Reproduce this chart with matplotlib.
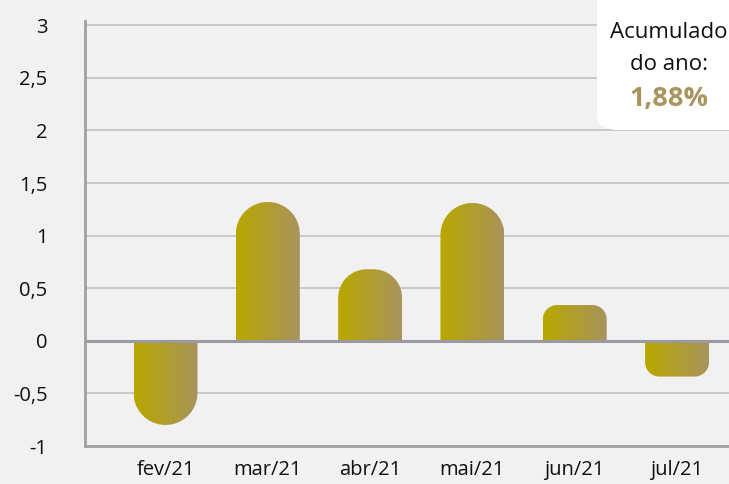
import numpy as np
import matplotlib.pyplot as plt
from matplotlib.path import Path
from matplotlib.patches import PathPatch, FancyBboxPatch
from matplotlib.colors import LinearSegmentedColormap

# dados
meses = ["fev/21", "mar/21", "abr/21", "mai/21", "jun/21", "jul/21"]
valores = [-0.80, 1.32, 0.68, 1.31, 0.34, -0.34]
yticks = [-1, -0.5, 0, 0.5, 1, 1.5, 2, 2.5, 3]
ytick_labels = ["-1", "-0,5", "0", "0,5", "1", "1,5", "2", "2,5", "3"]
acumulado = "1,88%"

plt.rcParams['font.family'] = ['Open Sans', 'DejaVu Sans']

W, H = 729, 484
fig = plt.figure(figsize=(W / 100, H / 100), dpi=100)
fig.patch.set_facecolor("#f1f1f1")

# eixo: esquerda em x=85px, vai ate a borda direita
ax = fig.add_axes([85 / W, (H - 446) / H, (W - 85) / W, (446 - 21) / H])
ax.set_facecolor("#f1f1f1")
xlim = (-0.787, 5.508)
ylim = (-1, 3.04)
ax.set_xlim(*xlim)
ax.set_ylim(*ylim)

# pixels por unidade
px_x = (W - 85) / (xlim[1] - xlim[0])
px_y = (446 - 21) / (ylim[1] - ylim[0])

cmap = LinearSegmentedColormap.from_list("ouro", ["#b9a700", "#a8945c"])
grad = np.linspace(0, 1, 256).reshape(1, -1)

largura = 0.625

def barra_arredondada(xc, v):
    # caminho da barra com ponta arredondada (circular em pixels)
    w_px = largura * px_x
    h_px = abs(v) * px_y
    r = min(w_px / 2, 0.4 * h_px)
    rx, ry = r / px_x, r / px_y
    x0, x1 = xc - largura / 2, xc + largura / 2
    s = 1 if v >= 0 else -1
    pts = [(x0, 0), (x0, v - s * ry)]
    t = np.linspace(np.pi, np.pi / 2, 20)
    pts += [(x0 + rx + rx * np.cos(a), v - s * ry + s * ry * np.sin(a)) for a in t]
    pts += [(x1 - rx, v)]
    t = np.linspace(np.pi / 2, 0, 20)
    pts += [(x1 - rx + rx * np.cos(a), v - s * ry + s * ry * np.sin(a)) for a in t]
    pts += [(x1, 0), (x0, 0)]
    return Path(pts, closed=True), (x0, x1, min(0, v), max(0, v))

# grade
for yt in yticks[1:]:
    ax.axhline(yt, color="#bdbdbd", lw=1.1, zorder=1)
ax.axhline(0, color="#9a9aa0", lw=2.2, zorder=3)

for i, v in enumerate(valores):
    path, (x0, x1, y0, y1) = barra_arredondada(i, v)
    patch = PathPatch(path, facecolor="none", edgecolor="none")
    ax.add_patch(patch)
    im = ax.imshow(grad, cmap=cmap, extent=(x0, x1, y0, y1), aspect="auto",
                   origin="lower", zorder=2)
    im.set_clip_path(patch)

ax.set_xlim(*xlim)
ax.set_ylim(*ylim)

ax.set_xticks(range(len(meses)))
ax.set_xticklabels(meses, fontsize=14.5, color="#111111")
ax.set_yticks(yticks)
ax.set_yticklabels(ytick_labels, fontsize=14.5, color="#111111")
ax.tick_params(axis="both", length=0)
ax.tick_params(axis="y", pad=27)
ax.tick_params(axis="x", pad=10)

for lado in ["top", "right"]:
    ax.spines[lado].set_visible(False)
ax.spines["left"].set_color("#a0a0a4")
ax.spines["left"].set_linewidth(2)
ax.spines["bottom"].set_color("#a0a0a4")
ax.spines["bottom"].set_linewidth(2)

# caixa acumulado
caixa = FancyBboxPatch((597 / W, (H - 130) / H), 200 / W, 160 / H,
                       boxstyle="round,pad=0,rounding_size=0.03",
                       transform=fig.transFigure, facecolor="white",
                       edgecolor="none", zorder=5)
fig.patches.append(caixa)
fig.text(669 / W, 1 - 33 / H, "Acumulado", ha="center", va="center",
         fontsize=16, color="#111111", zorder=6)
fig.text(669 / W, 1 - 64 / H, "do ano:", ha="center", va="center",
         fontsize=16, color="#111111", zorder=6)
fig.text(669 / W, 1 - 99 / H, acumulado, ha="center", va="center",
         fontsize=19.5, fontweight="bold", color="#a8945c", zorder=6)

fig.savefig("out.png", dpi=100, facecolor=fig.get_facecolor())
